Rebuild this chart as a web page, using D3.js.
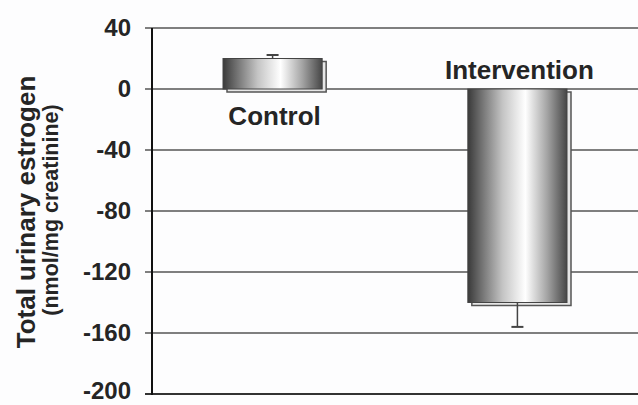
<!DOCTYPE html>
<html>
<head>
<meta charset="utf-8">
<script src="https://cdn.jsdelivr.net/npm/d3@7"></script>
<style>
  body { margin: 0; background: #fdfdfe; }
  svg { display: block; font-family: "Liberation Sans", Arial, sans-serif; font-weight: bold; }
</style>
</head>
<body>
<script>
// values
var groups = ["Control", "Intervention"];
var means = [20, -140];
var errors = [2.3, 16];
var yTicks = [40, 0, -40, -80, -120, -160, -200];

function init(){
    var w = 638;
    var h = 405;

    var svg = d3.select("body")
                .append("svg")
                .attr("width", w)
                .attr("height", h);

    var y = d3.scaleLinear()
                .domain([-200, 40])
                .range([394, 28]);

    var x = d3.scaleBand()
                .domain(groups)
                .range([152, 638])
                .paddingInner(0.595)
                .paddingOuter(0.29);

    // gradient for the cylinder-like bars
    var grad = svg.append("defs").append("linearGradient")
                .attr("id", "barGrad")
                .attr("x1", "0%").attr("x2", "100%")
                .attr("y1", "0%").attr("y2", "0%");
    [[0, "#3a3a3a"], [0.12, "#6a6a6a"], [0.35, "#c4c4c4"], [0.58, "#ffffff"],
     [0.8, "#a4a4a4"], [1, "#464646"]].forEach(function(s){
        grad.append("stop").attr("offset", s[0]).attr("stop-color", s[1]);
    });

    // gridlines
    svg.append("g")
        .selectAll("line")
        .data(yTicks)
        .enter()
        .append("line")
        .attr("x1", 145)
        .attr("x2", w)
        .attr("y1", function(d){ return y(d); })
        .attr("y2", function(d){ return y(d); })
        .attr("stroke", function(d){ return d == -200 ? "#333" : "#555"; })
        .attr("stroke-width", function(d){ return d == -200 ? 2 : 1.5; });

    // y axis line + labels
    svg.append("line")
        .attr("x1", 152).attr("x2", 152)
        .attr("y1", y(40)).attr("y2", y(-200) + 1)
        .attr("stroke", "#111")
        .attr("stroke-width", 2);

    svg.append("g")
        .selectAll("text")
        .data(yTicks)
        .enter()
        .append("text")
        .attr("x", 131)
        .attr("y", function(d){ return Math.min(y(d) + 8, 399); })
        .attr("text-anchor", "end")
        .attr("font-size", 24)
        .attr("fill", "#252525")
        .text(function(d){ return d; });

    var bars = svg.append("g")
        .selectAll("g")
        .data(groups)
        .enter()
        .append("g");

    // shadow behind each bar
    bars.append("rect")
        .attr("x", function(d){ return x(d) + 4; })
        .attr("y", function(d, i){ return Math.min(y(means[i]), y(0)) + 3; })
        .attr("width", x.bandwidth())
        .attr("height", function(d, i){ return Math.abs(y(means[i]) - y(0)); })
        .attr("fill", "#e6e6e6")
        .attr("stroke", "#555")
        .attr("stroke-width", 1.5);

    bars.append("rect")
        .attr("x", function(d){ return x(d); })
        .attr("y", function(d, i){ return Math.min(y(means[i]), y(0)); })
        .attr("width", x.bandwidth())
        .attr("height", function(d, i){ return Math.abs(y(means[i]) - y(0)); })
        .attr("fill", "url(#barGrad)")
        .attr("stroke", "#444")
        .attr("stroke-width", 1);

    // error bars
    bars.append("line")
        .attr("x1", function(d){ return x(d) + x.bandwidth() / 2; })
        .attr("x2", function(d){ return x(d) + x.bandwidth() / 2; })
        .attr("y1", function(d, i){ return y(means[i]); })
        .attr("y2", function(d, i){ return y(means[i] + Math.sign(means[i]) * errors[i]); })
        .attr("stroke", "#444")
        .attr("stroke-width", 1.5);

    bars.append("line")
        .attr("x1", function(d){ return x(d) + x.bandwidth() / 2 - 6; })
        .attr("x2", function(d){ return x(d) + x.bandwidth() / 2 + 6; })
        .attr("y1", function(d, i){ return y(means[i] + Math.sign(means[i]) * errors[i]); })
        .attr("y2", function(d, i){ return y(means[i] + Math.sign(means[i]) * errors[i]); })
        .attr("stroke", "#444")
        .attr("stroke-width", 2);

    // group labels: below the positive bar, above the negative one
    bars.append("text")
        .attr("x", function(d){ return x(d) + x.bandwidth() / 2 + 2; })
        .attr("y", function(d, i){ return means[i] > 0 ? y(0) + 36 : y(0) - 10; })
        .attr("text-anchor", "middle")
        .attr("font-size", 26)
        .attr("fill", "#252525")
        .text(function(d){ return d; });

    // y title
    svg.append("text")
        .attr("transform", "translate(35,212) rotate(-90)")
        .attr("text-anchor", "middle")
        .attr("font-size", 26)
        .attr("fill", "#252525")
        .text("Total urinary estrogen");

    svg.append("text")
        .attr("transform", "translate(58,210) rotate(-90)")
        .attr("text-anchor", "middle")
        .attr("font-size", 21.5)
        .attr("fill", "#252525")
        .text("(nmol/mg creatinine)");
}
window.onload = init;
</script>
</body>
</html>
